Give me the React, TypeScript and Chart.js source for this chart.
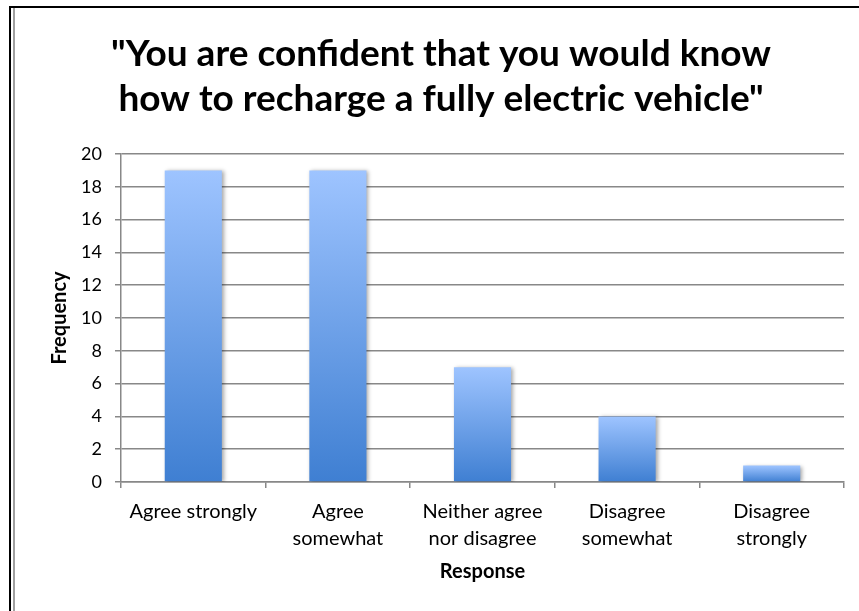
import React, { useEffect, useRef } from "react";
import { Chart, registerables } from "chart.js";
Chart.register(...registerables);

const titleLines = ['"You are confident that you would know', 'how to recharge a fully electric vehicle"'];
const categories: (string | string[])[] = [
  "Agree strongly",
  ["Agree", "somewhat"],
  ["Neither agree", "nor disagree"],
  ["Disagree", "somewhat"],
  ["Disagree", "strongly"],
];
const frequencies = [19, 19, 7, 4, 1];
const yMin = 0;
const yMax = 20;
const yStep = 2;
const xTitle = "Response";
const yTitle = "Frequency";

const FONT = "Lato, 'Open Sans', sans-serif";
const GRID = "#888888";

const shadowPlugin = {
  id: "barShadow",
  beforeDatasetsDraw(chart: any) {
    const ctx = chart.ctx;
    ctx.save();
    ctx.shadowColor = "rgba(0,0,0,0.35)";
    ctx.shadowBlur = 4;
    ctx.shadowOffsetX = 2;
    ctx.shadowOffsetY = 1;
  },
  afterDatasetsDraw(chart: any) {
    chart.ctx.restore();
  },
};

export default function App() {
  const ref = useRef<HTMLCanvasElement>(null);
  useEffect(() => {
    if (!ref.current) return;
    const chart = new Chart(ref.current, {
      type: "bar",
      data: {
        labels: categories,
        datasets: [
          {
            data: frequencies,
            backgroundColor: (c: any) => {
              const ch = c.chart;
              const y = ch.scales && ch.scales.y;
              if (!y || c.type !== "data" || !ch.chartArea) return "#6a9ee6";
              const top = y.getPixelForValue(frequencies[c.dataIndex]);
              const bottom = y.getPixelForValue(0);
              const g = ch.ctx.createLinearGradient(0, top, 0, bottom);
              g.addColorStop(0, "#9EC4FF");
              g.addColorStop(1, "#3F7FD2");
              return g;
            },
            borderWidth: 0,
            categoryPercentage: 1,
            barPercentage: 0.395,
          },
        ],
      },
      options: {
        responsive: false,
        animation: false,
        layout: { padding: { left: 38, right: 15, top: 0, bottom: 0 } },
        plugins: {
          legend: { display: false },
          tooltip: { enabled: false },
          title: {
            display: true,
            text: titleLines,
            color: "#000",
            font: { family: FONT, size: 37, weight: "bold", lineHeight: 1.22 },
            padding: { top: 31, bottom: 32.7 },
          },
        },
        scales: {
          x: {
            afterFit: (s: any) => {
              s.height = 129;
            },
            grid: {
              display: true,
              drawOnChartArea: false,
              drawTicks: true,
              tickLength: 6,
              color: GRID,
              lineWidth: 1.5,
              offset: true,
            },
            border: { display: true, color: GRID, width: 1.5 },
            ticks: {
              color: "#000",
              padding: 10,
              maxRotation: 0,
              autoSkip: false,
              font: { family: FONT, size: 20, lineHeight: 1.35 },
            },
            title: {
              display: true,
              text: xTitle,
              color: "#000",
              font: { family: FONT, size: 20, weight: "bold", lineHeight: 1.2 },
              padding: { top: 0, bottom: 27 },
            },
          },
          y: {
            min: yMin,
            max: yMax,
            afterFit: (s: any) => {
              s.width = 83;
            },
            grid: {
              color: GRID,
              lineWidth: 1.5,
              drawTicks: true,
              tickLength: 6,
            },
            border: { display: true, color: GRID, width: 1.5 },
            ticks: {
              stepSize: yStep,
              color: "#000",
              padding: 13,
              font: { family: FONT, size: 18 },
            },
            title: {
              display: true,
              text: yTitle,
              color: "#000",
              font: { family: FONT, size: 20, weight: "bold", lineHeight: 1.2 },
              padding: { top: 10, bottom: 0 },
            },
          },
        },
      },
      plugins: [shadowPlugin],
    } as any);
    return () => chart.destroy();
  }, []);

  return (
    <div style={{ position: "fixed", left: 0, top: 0, width: 859, height: 611, background: "#fff" }}>
      <canvas ref={ref} width={859} height={611} style={{ position: "absolute", left: 0, top: 0 }} />
      <div style={{ position: "absolute", left: 9, top: 6, width: 850, height: 605, borderLeft: "2px solid #000", borderTop: "2px solid #000", boxSizing: "border-box", pointerEvents: "none" }} />
      <div style={{ position: "absolute", left: 13, top: 8, width: 2, height: 603, background: "#a0a0a0", pointerEvents: "none" }} />
    </div>
  );
}
